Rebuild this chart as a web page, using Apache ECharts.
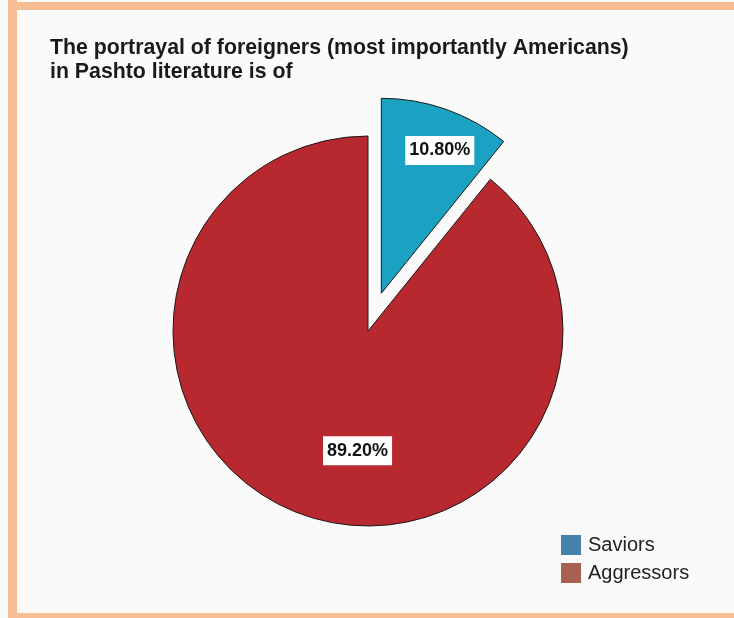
<!DOCTYPE html>
<html>
<head>
<meta charset="utf-8">
<script src="https://cdn.jsdelivr.net/npm/echarts@6/dist/echarts.min.js"></script>
<style>
  html, body { margin: 0; padding: 0; background: #fbfbfb; }
  #chart { width: 734px; height: 618px; }
</style>
</head>
<body>
<div id="chart"></div>
<script>
// data
const categories = ['Saviors', 'Aggressors'];
const shares = [10.8, 89.2];
const sliceColors = ['#1ba2c3', '#b8282f'];
const legendColors = ['#4682ae', '#a86150'];

// label nudges (pixels) to sit where the original put them
const labelShift = [[25, -48], [23, 25]];

const chart = echarts.init(document.getElementById('chart'));

const option = {
    animation: false,
    backgroundColor: '#fafafa',
    title: {
        text: 'The portrayal of foreigners (most importantly Americans)\nin Pashto literature is of',
        left: 50,
        top: 36,
        padding: 0,
        textStyle: {
            fontFamily: 'Liberation Sans, Arial, sans-serif',
            fontWeight: 'bold',
            fontSize: 21.3,
            lineHeight: 24,
            color: '#1a1a1a'
        }
    },
    legend: {
        orient: 'vertical',
        left: 561,
        top: 535,
        padding: 0,
        itemWidth: 20,
        itemHeight: 20,
        itemGap: 8,
        icon: 'rect',
        selectedMode: false,
        textStyle: {
            fontFamily: 'Liberation Sans, Arial, sans-serif',
            fontSize: 20,
            color: '#222',
            padding: [0, 0, 0, 2]
        },
        data: categories.map((c, i) => ({
            name: c,
            itemStyle: { color: legendColors[i], borderWidth: 0 }
        }))
    },
    graphic: [
        // peach frame
        { type: 'rect', shape: { x: 8, y: 0, width: 9, height: 618 }, style: { fill: '#f7bd93' } },
        { type: 'rect', shape: { x: 8, y: 2, width: 726, height: 8 }, style: { fill: '#f7bd93' } },
        { type: 'rect', shape: { x: 8, y: 613, width: 726, height: 5 }, style: { fill: '#f7bd93' } }
    ],
    series: [{
        type: 'pie',
        center: [368, 331],
        radius: 195,
        startAngle: 90,
        clockwise: true,
        selectedMode: 'single',
        selectedOffset: 40,
        avoidLabelOverlap: false,
        itemStyle: {
            borderColor: '#1a1a1a',
            borderWidth: 1
        },
        emphasis: { disabled: true },
        label: {
            show: true,
            position: 'inside',
            formatter: p => p.value.toFixed(2) + '%',
            fontFamily: 'Liberation Sans, Arial, sans-serif',
            fontWeight: 'bold',
            fontSize: 18,
            color: '#111',
            backgroundColor: '#fff',
            padding: [6, 4, 5, 4]
        },
        labelLine: { show: false },
        labelLayout: p => ({ dx: labelShift[p.dataIndex][0], dy: labelShift[p.dataIndex][1] }),
        data: categories.map((c, i) => ({
            name: c,
            value: shares[i],
            selected: i === 0,
            itemStyle: { color: sliceColors[i] },
            select: { itemStyle: { color: sliceColors[i], borderColor: '#1a1a1a', borderWidth: 1 } }
        }))
    }]
};

chart.setOption(option);
</script>
</body>
</html>
